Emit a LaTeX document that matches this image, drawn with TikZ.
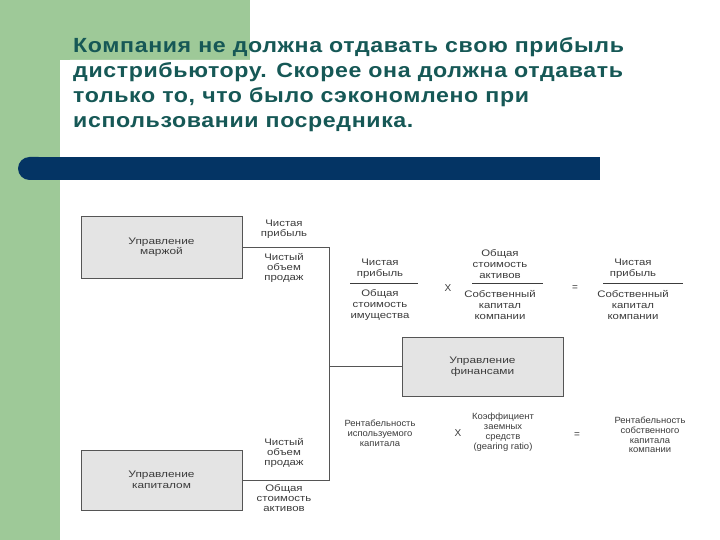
\documentclass[tikz,border=0pt]{standalone}
\usepackage{fontspec}
\setmainfont{Liberation Sans}
\setsansfont{Liberation Sans}
\newfontfamily\titlefont{Liberation Sans}[FakeStretch=1.13, LetterSpace=3]
\newfontfamily\wideA{Liberation Sans}[FakeStretch=1.2]
\newfontfamily\wideB{Liberation Sans}[FakeStretch=1.25]
\newfontfamily\wideC{Liberation Sans}[FakeStretch=1.05]
\definecolor{bggreen}{RGB}{158,201,152}
\definecolor{barblue}{RGB}{4,52,100}
\definecolor{titlecol}{RGB}{22,88,86}
\definecolor{txtgray}{RGB}{60,60,60}
\definecolor{boxfill}{RGB}{228,228,228}
\definecolor{boxline}{RGB}{85,85,85}
\tikzset{
  titleline/.style={anchor=base west, inner sep=0pt, text=titlecol, font=\titlefont\bfseries\fontsize{20.5}{22}\selectfont},
  lbl/.style={align=center, inner sep=0pt, text=txtgray, font=\wideA\fontsize{9.5}{10}\selectfont},
  flbl/.style={align=center, inner sep=0pt, text=txtgray, font=\wideA\fontsize{9.5}{10.8}\selectfont},
  glbl/.style={align=center, inner sep=0pt, text=txtgray, font=\wideC\fontsize{9}{9.8}\selectfont},
  opsign/.style={inner sep=0pt, text=txtgray, font=\sffamily\fontsize{10}{10}\selectfont},
  mgmtbox/.style={draw=boxline, fill=boxfill, line width=0.9pt, align=center, inner sep=0pt,
     text=txtgray, font=\wideB\fontsize{9.5}{10.5}\selectfont},
  conn/.style={draw=boxline, line width=0.8pt},
  fracrule/.style={draw=txtgray, line width=0.7pt}
}
\begin{document}
\begin{tikzpicture}[x=1pt,y=-1pt]
\useasboundingbox (0,0) rectangle (720,540);
\fill[white] (0,0) rectangle (720,540);
% green background
\fill[bggreen] (0,0) rectangle (250,60);
\fill[bggreen] (0,0) rectangle (60,540);
\fill[white, rounded corners=10pt] (60,60) rectangle (320,320);
% blue bar
\fill[barblue, rounded corners=11.5pt] (18,157) rectangle (50,180);
\fill[barblue] (36,157) rectangle (600,180);
% title
\node[titleline] (t1) at (73,53) {Компания не должна отдавать свою прибыль};
\node[titleline] (t2) at (73,78) {дистрибьютору. Скорее она должна отдавать};
\node[titleline] (t3) at (73,103) {только то, что было сэкономлено при};
\node[titleline] (t4) at (73,128) {использовании посредника.};
% boxes
\node[mgmtbox, minimum width=161pt, minimum height=62pt] (bm) at (161.5,247) {Управление\\маржой};
\node[mgmtbox, minimum width=161pt, minimum height=60pt] (bk) at (161.5,480) {Управление\\капиталом};
\node[mgmtbox, minimum width=161pt, minimum height=59pt] (bf) at (482.5,366.5) {Управление\\финансами};
% connectors
\coordinate (cTop) at (329,247);
\coordinate (cBot) at (329,480);
\draw[conn] (bm.east) -- (cTop) -- (cBot) -- (bk.east);
\draw[conn] (bf.west) -- (bf.west -| cTop);
% left labels
\node[lbl] (l1) at (284,229) {Чистая\\прибыль};
\node[lbl] (l2) at (284,268) {Чистый\\объем\\продаж};
\node[lbl] (l3) at (284,453) {Чистый\\объем\\продаж};
\node[lbl] (l4) at (284,498) {Общая\\стоимость\\активов};
% formula row 1
\node[flbl] (n1) at (380,269) {Чистая\\прибыль};
\node[flbl] (d1) at (380,305) {Общая\\стоимость\\имущества};
\coordinate (r1a) at (350,283); \coordinate (r1b) at (418,283);
\draw[fracrule] (r1a) -- (r1b);
\node[opsign] (x1) at (448,288) {X};
\node[flbl] (n2) at (500,264) {Общая\\стоимость\\активов};
\node[flbl] (d2) at (500,305) {Собственный\\капитал\\компании};
\coordinate (r2a) at (472,283); \coordinate (r2b) at (543,283);
\draw[fracrule] (r2a) -- (r2b);
\node[opsign] (e1) at (575,288) {=};
\node[flbl] (n3) at (633,269) {Чистая\\прибыль};
\node[flbl] (d3) at (633,305) {Собственный\\капитал\\компании};
\coordinate (r3a) at (603,283); \coordinate (r3b) at (683,283);
\draw[fracrule] (r3a) -- (r3b);
% formula row 2
\node[glbl] (p1) at (380,433) {Рентабельность\\используемого\\капитала};
\node[opsign] (x2) at (458,433) {X};
\node[glbl] (p2) at (503,432) {Коэффициент\\заемных\\средств\\(gearing ratio)};
\node[opsign] (e2) at (577,435) {=};
\node[glbl] (p3) at (650,435) {Рентабельность\\собственного\\капитала\\компании};
\end{tikzpicture}
\end{document}
